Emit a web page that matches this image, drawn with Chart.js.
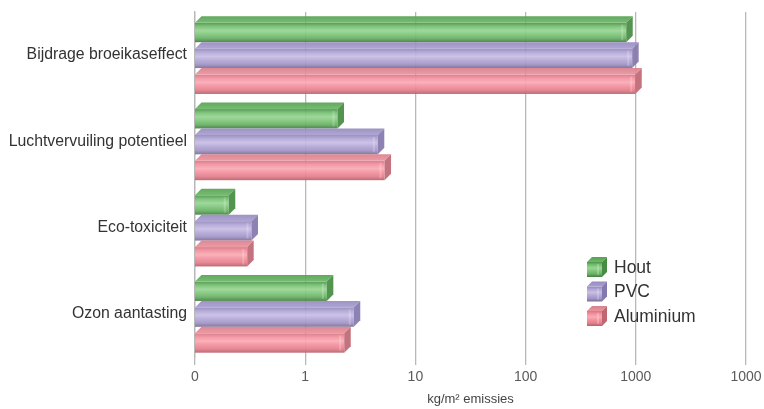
<!DOCTYPE html>
<html>
<head>
<meta charset="utf-8">
<script src="https://cdn.jsdelivr.net/npm/chart.js@4/dist/chart.umd.min.js"></script>
<style>
  html, body { margin: 0; padding: 0; background: #fff; }
  #wrap { width: 764px; height: 409px; position: relative; }
</style>
</head>
<body>
<div id="wrap"><canvas id="c"></canvas></div>
<script>
// Emissions per square metre of window frame, by material (log scale)
const categories = ['Bijdrage broeikaseffect', 'Luchtvervuiling potentieel', 'Eco-toxiciteit', 'Ozon aantasting'];
const seriesNames = ['Hout', 'PVC', 'Aluminium'];
const hout      = [938, 2.25, 0.232, 1.80];
const pvc       = [1062, 5.22, 0.373, 3.16];
const aluminium = [1132, 6.01, 0.341, 2.59];
const tickValues = [0.1, 1, 10, 100, 1000, 10000];
const tickLabels = ['0', '1', '10', '100', '1000', '1000'];
const axisTitle = 'kg/m\u00b2 emissies';

// Shading for the prism faces of each material
const palettes = [
  { front: ['#4e944a', '#78c174', '#98d594', '#7fc67b', '#68b064', '#437f40'], top: ['#56a252', '#6cb768'], side: '#468d43' },
  { front: ['#9188bb', '#b4a8d7', '#c8bee5', '#b3a7d6', '#a295c6', '#786e98'], top: ['#968bbf', '#aa9fd0'], side: '#8479ad' },
  { front: ['#d77683', '#f393a0', '#f9abb5', '#f2909e', '#e5808c', '#b6606c'], top: ['#d9808c', '#ea939e'], side: '#bf6773' }
];

const DEPTH = 6.5;
const FONT = "'Liberation Sans', Arial, Helvetica, sans-serif";

function prism(ctx, left, right, top, bottom, pal, depth) {
  const d = Math.min(depth, Math.max(0, (right - left) / 2));
  const fg = ctx.createLinearGradient(0, top + d, 0, bottom);
  pal.front.forEach((c, i, a) => fg.addColorStop(i / (a.length - 1), c));
  ctx.fillStyle = fg;
  ctx.fillRect(left, top + d, right - d - left, bottom - top - d);

  const tg = ctx.createLinearGradient(0, top, 0, top + d);
  tg.addColorStop(0, pal.top[0]);
  tg.addColorStop(1, pal.top[1]);
  ctx.fillStyle = tg;
  ctx.beginPath();
  ctx.moveTo(left, top + d);
  ctx.lineTo(left + d, top);
  ctx.lineTo(right, top);
  ctx.lineTo(right - d, top + d);
  ctx.closePath();
  ctx.fill();

  ctx.fillStyle = pal.side;
  ctx.beginPath();
  ctx.moveTo(right - d, top + d);
  ctx.lineTo(right, top);
  ctx.lineTo(right, bottom - d);
  ctx.lineTo(right - d, bottom);
  ctx.closePath();
  ctx.fill();

  // soft highlight just inside the front face's right edge
  const w = right - d - left;
  if (w > 10) {
    ctx.fillStyle = 'rgba(255,255,255,0.22)';
    ctx.fillRect(right - d - 5, top + d + 2, 2, bottom - top - d - 4);
  }
}

const prismBars = {
  id: 'prismBars',
  afterDatasetsDraw(chart) {
    const ctx = chart.ctx;
    ctx.save();
    ctx.globalAlpha = 0.93;
    chart.data.datasets.forEach((ds, di) => {
      const meta = chart.getDatasetMeta(di);
      if (meta.hidden) return;
      meta.data.forEach(el => {
        const p = el.getProps(['x', 'y', 'base', 'height'], true);
        const left = Math.min(p.base, p.x), right = Math.max(p.base, p.x);
        prism(ctx, left, right, p.y - p.height / 2, p.y + p.height / 2, palettes[di], DEPTH);
      });
    });
    ctx.restore();
  }
};

const cubeLegend = {
  id: 'cubeLegend',
  afterDraw(chart) {
    const ctx = chart.ctx;
    const x0 = 587, y0 = 257, step = 24.5, s = 20;
    ctx.save();
    chart.data.datasets.forEach((ds, i) => {
      const y = y0 + i * step;
      prism(ctx, x0, x0 + s, y, y + s, palettes[i], 5);
      ctx.fillStyle = '#333';
      ctx.font = '17.5px ' + FONT;
      ctx.textBaseline = 'middle';
      ctx.textAlign = 'left';
      ctx.fillText(ds.label, x0 + s + 7, y + s / 2 + 1);
    });
    ctx.restore();
  }
};

new Chart(document.getElementById('c'), {
  type: 'bar',
  data: {
    labels: categories,
    datasets: [
      { label: seriesNames[0], data: hout },
      { label: seriesNames[1], data: pvc },
      { label: seriesNames[2], data: aluminium }
    ].map(d => Object.assign(d, { backgroundColor: 'rgba(0,0,0,0)', borderWidth: 0 }))
  },
  options: {
    indexAxis: 'y',
    responsive: true,
    maintainAspectRatio: false,
    devicePixelRatio: 1,
    animation: false,
    categoryPercentage: 0.9,
    barPercentage: 1.0,
    layout: { padding: { top: 12, right: 18, bottom: 2, left: 0 } },
    plugins: {
      legend: { display: false },
      tooltip: { enabled: false }
    },
    scales: {
      x: {
        type: 'logarithmic',
        min: tickValues[0],
        max: tickValues[tickValues.length - 1],
        afterBuildTicks: scale => { scale.ticks = tickValues.map(v => ({ value: v })); },
        afterFit: scale => { scale.height = 50; scale.paddingLeft = 0; scale.paddingRight = 0; },
        ticks: {
          callback: (v, i) => tickLabels[i],
          color: '#5a5a5a',
          font: { family: FONT, size: 14 },
          padding: 4,
          autoSkip: false,
          maxRotation: 0
        },
        grid: { color: '#b8b8b8', lineWidth: 1.3, tickLength: 8 },
        border: { display: false },
        title: {
          display: true,
          text: axisTitle,
          color: '#444',
          font: { family: FONT, size: 13 },
          padding: { top: 6, bottom: 0 }
        }
      },
      y: {
        grid: { display: false, drawTicks: false },
        border: { display: true, color: '#b8b8b8', width: 1.3 },
        ticks: { color: '#333', font: { family: FONT, size: 15.8 }, padding: 8 },
        afterFit: scale => { scale.width = 195; scale.paddingTop = 0; scale.paddingBottom = 0; }
      }
    }
  },
  plugins: [prismBars, cubeLegend]
});
</script>
</body>
</html>
